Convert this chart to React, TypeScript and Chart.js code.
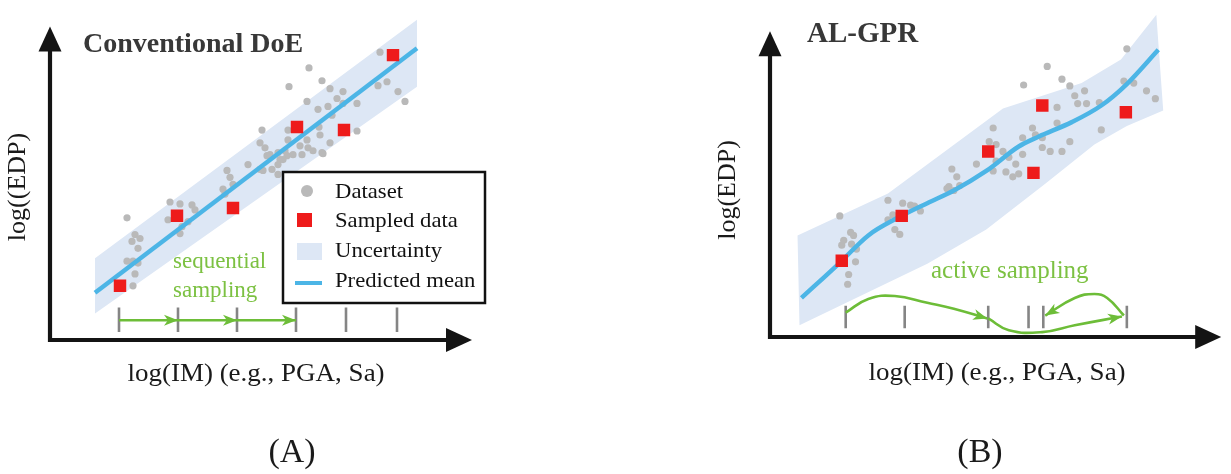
import React, { useEffect, useRef } from "react";
import { Chart, registerables } from "chart.js";
Chart.register(...registerables);

type Pt = [number, number];

// ---------------- Panel A: Conventional DoE ----------------
const aDataset: Pt[] = [
  [1.925, 4.133], [2.125, 3.567], [2.25, 3.433], [2.05, 3.333], [2.2, 3.1], [1.925, 2.667], [2.075, 2.667], [2.2, 2.6],
  [2.125, 2.233], [2.075, 1.833], [3.0, 4.667], [3.25, 4.6], [3.55, 4.567], [3.625, 4.4], [2.95, 4.067], [3.3, 3.833],
  [3.25, 3.6], [3.45, 4.0], [4.425, 5.733], [4.5, 5.5], [4.325, 5.1], [4.375, 4.933], [4.575, 5.267], [4.95, 5.933],
  [5.25, 5.767], [5.425, 6.233], [5.75, 6.1], [5.925, 6.233], [5.3, 7.1], [5.25, 6.667], [5.375, 6.5], [5.5, 6.267],
  [5.7, 6.333], [5.875, 6.4], [5.95, 6.767], [5.825, 6.1], [5.7, 5.933], [5.55, 5.767], [5.325, 5.733], [5.7, 5.6],
  [6.075, 6.267], [6.25, 6.567], [6.425, 6.767], [6.45, 6.5], [6.3, 6.267], [6.575, 6.4], [6.8, 6.333], [7.0, 6.667],
  [6.75, 6.933], [5.95, 7.1], [6.475, 9.2], [5.975, 8.567], [6.8, 8.767], [7.0, 8.5], [7.325, 8.4], [7.175, 8.167],
  [6.425, 8.067], [6.7, 7.8], [6.95, 7.9], [7.325, 8.0], [7.675, 8.0], [7.05, 7.6], [8.25, 9.733], [8.2, 8.6],
  [8.425, 8.733], [8.7, 8.4], [8.875, 8.067], [7.675, 7.067], [6.725, 7.2], [6.825, 6.3],
];
const aSampled: Pt[] = [[1.75, 1.833], [3.175, 4.2], [4.575, 4.467], [6.175, 7.2], [7.35, 7.1], [8.575, 9.633]];
const aMean: Pt[] = [[1.125, 1.6], [9.175, 9.867]];
const aBandUpper: Pt[] = [[1.125, 2.767], [9.175, 10.833]];
const aBandLower: Pt[] = [[1.125, 0.9], [9.175, 8.567]];
const aTicks: number[] = [1.725, 3.2, 4.675, 6.15, 7.4, 8.675];
const aArrows: Pt[][] = [
  [[1.725, 0.667], [3.2, 0.667]],
  [[3.2, 0.667], [4.675, 0.667]],
  [[4.675, 0.667], [6.15, 0.667]],
];

// ---------------- Panel B: AL-GPR ----------------
const bDataset: Pt[] = [
  [1.775, 4.133], [2.05, 3.567], [2.125, 3.467], [1.875, 3.3], [1.825, 3.133], [2.075, 3.167], [2.2, 3.0], [2.175, 2.567],
  [2.0, 2.133], [1.975, 1.8], [3.0, 4.667], [3.125, 4.167], [3.0, 4.0], [3.175, 3.667], [3.3, 3.5], [3.375, 4.567],
  [3.675, 4.467], [3.825, 4.3], [3.575, 4.5], [4.625, 5.733], [4.75, 5.467], [4.55, 5.133], [4.675, 5.0], [4.825, 5.167],
  [4.5, 5.067], [5.675, 7.133], [5.25, 5.9], [5.575, 6.667], [5.75, 6.567], [5.925, 6.333], [5.75, 6.0], [6.075, 6.133],
  [6.25, 5.9], [6.425, 6.233], [6.425, 6.8], [6.675, 7.133], [6.75, 6.9], [6.925, 6.8], [6.925, 6.467], [7.125, 6.333],
  [7.425, 6.333], [7.625, 6.667], [5.675, 5.667], [6.0, 5.633], [6.325, 5.567], [6.175, 5.467], [7.3, 7.3], [7.05, 9.233],
  [7.425, 8.8], [7.625, 8.567], [6.45, 8.6], [7.75, 8.233], [8.0, 8.4], [7.825, 7.967], [8.05, 7.967], [7.3, 7.833],
  [8.375, 8.0], [8.425, 7.067], [9.075, 9.833], [9.0, 8.733], [9.25, 8.667], [9.575, 8.4], [9.8, 8.133],
];
const bSampled: Pt[] = [[1.825, 2.6], [3.35, 4.133], [5.55, 6.333], [6.925, 7.9], [6.7, 5.6], [9.05, 7.667]];
const bMean: Pt[] = [
  [0.8, 1.333], [1.8, 2.567], [2.5, 3.467], [3.25, 4.067], [4.0, 4.567], [4.675, 5.0], [5.5, 5.667],
  [6.325, 6.5], [6.825, 6.833], [7.675, 7.333], [8.425, 7.9], [9.075, 8.633], [9.875, 9.8],
];
const bBandUpper: Pt[] = [[0.7, 3.467], [3.0, 4.9], [5.925, 7.8], [7.925, 8.667], [8.925, 9.467], [9.825, 11.0]];
const bBandLower: Pt[] = [[0.75, 0.4], [4.0, 2.5], [5.5, 3.667], [7.0, 5.233], [8.25, 6.567], [9.075, 7.2], [10.0, 7.733]];
const bTicks: number[] = [1.925, 3.425, 5.55, 6.575, 6.95, 9.075];
const bArrows: Pt[][] = [
  [[1.925, 0.833], [2.5, 1.3], [3.175, 1.4], [4.0, 1.167], [4.675, 0.967], [5.525, 0.633]],
  [[5.55, 0.633], [6.075, 0.233], [6.925, 0.167], [7.75, 0.4], [8.95, 0.7]],
  [[9.0, 0.733], [8.575, 1.333], [8.25, 1.467], [7.75, 1.333], [7.0, 0.733]],
];

// tick mark extents (y, data units)
const aTickRange: Pt = [1.1, 0.267];
const bTickRange: Pt = [1.067, 0.3];

// ---------------- styles ----------------
const SERIF = '"Liberation Serif", "DejaVu Serif", "Times New Roman", serif';
const BAND = "#dde7f5";
const BLUE = "#4cb5e6";
const RED = "#ee1b1b";
const GRAY = "#b9b9b9";
const GREEN = "#6dbd38";
const GREEN_TEXT = "#7cc142";
const AXIS = "#141414";

function drawText(ctx: CanvasRenderingContext2D, s: string, x: number, y: number, font: string, color: string,
  align: CanvasTextAlign = "left", sx = 1, rot = 0, baseline: CanvasTextBaseline = "alphabetic") {
  ctx.save();
  ctx.translate(x, y);
  if (rot) ctx.rotate(rot);
  ctx.scale(sx, 1);
  ctx.font = font;
  ctx.fillStyle = color;
  ctx.textAlign = align;
  ctx.textBaseline = baseline;
  ctx.fillText(s, 0, 0);
  ctx.restore();
}

function arrowHead(ctx: CanvasRenderingContext2D, x: number, y: number, ang: number, len: number, half: number, color: string, notch = 0.7) {
  ctx.save();
  ctx.translate(x, y);
  ctx.rotate(ang);
  ctx.beginPath();
  ctx.moveTo(0, 0);
  ctx.lineTo(-len, -half);
  ctx.lineTo(-len * notch, 0);
  ctx.lineTo(-len, half);
  ctx.closePath();
  ctx.fillStyle = color;
  ctx.fill();
  ctx.restore();
}

type Panel = {
  dataset: Pt[]; sampled: Pt[]; mean: Pt[]; bandUpper: Pt[]; bandLower: Pt[]; ticks: number[]; tickRange: Pt;
  arrows: Pt[][]; arrowTension: number; meanMode: "default" | "monotone";
  xMax: number; yMax: number; axisTipX: number; axisTipY: number;
  padding: { left: number; right: number; top: number; bottom: number };
  offsetX: number; width: number;
  drawTexts: (ctx: CanvasRenderingContext2D) => void;
};

const xy = (pts: Pt[]) => pts.map(([x, y]) => ({ x, y }));

const panelA: Panel = {
  dataset: aDataset, sampled: aSampled, mean: aMean, bandUpper: aBandUpper, bandLower: aBandLower,
  ticks: aTicks, tickRange: aTickRange, arrows: aArrows, arrowTension: 0, meanMode: "default",
  xMax: 10.5, yMax: 11.2, axisTipX: 10.55, axisTipY: 10.6,
  padding: { left: 50, right: 145, top: 4, bottom: 134 }, offsetX: 0, width: 615,
  drawTexts: (ctx) => {
    drawText(ctx, "Conventional DoE", 83, 52, `bold 28px ${SERIF}`, "#383838");
    drawText(ctx, "log((EDP)", 18, 187, `26px ${SERIF}`, "#1a1a1a", "center", 1, -Math.PI / 2, "middle");
    drawText(ctx, "log(IM) (e.g., PGA, Sa)", 256, 381, `25px ${SERIF}`, "#1a1a1a", "center", 1.08);
    drawText(ctx, "(A)", 292, 462, `34px ${SERIF}`, "#1a1a1a", "center");
    drawText(ctx, "sequential", 173, 268, `23px ${SERIF}`, GREEN_TEXT);
    drawText(ctx, "sampling", 173, 297, `23px ${SERIF}`, GREEN_TEXT);
    // legend
    ctx.save();
    ctx.fillStyle = "#ffffff";
    ctx.fillRect(283, 172, 202, 131);
    ctx.strokeStyle = "#111";
    ctx.lineWidth = 2.5;
    ctx.strokeRect(283, 172, 202, 131);
    ctx.fillStyle = GRAY;
    ctx.beginPath();
    ctx.arc(307, 191, 6, 0, Math.PI * 2);
    ctx.fill();
    ctx.fillStyle = RED;
    ctx.fillRect(297, 213, 15, 14);
    ctx.fillStyle = BAND;
    ctx.fillRect(297, 243, 25, 17);
    ctx.strokeStyle = BLUE;
    ctx.lineWidth = 4;
    ctx.beginPath();
    ctx.moveTo(295, 283);
    ctx.lineTo(322, 283);
    ctx.stroke();
    ctx.restore();
    const lf = `21px ${SERIF}`;
    drawText(ctx, "Dataset", 335, 198, lf, "#111", "left", 1.08);
    drawText(ctx, "Sampled data", 335, 227, lf, "#111", "left", 1.08);
    drawText(ctx, "Uncertainty", 335, 257, lf, "#111", "left", 1.08);
    drawText(ctx, "Predicted mean", 335, 287, lf, "#111", "left", 1.08);
  },
};

const panelB: Panel = {
  dataset: bDataset, sampled: bSampled, mean: bMean, bandUpper: bBandUpper, bandLower: bBandLower,
  ticks: bTicks, tickRange: bTickRange, arrows: bArrows, arrowTension: 0.45, meanMode: "monotone",
  xMax: 11.5, yMax: 11.2, axisTipX: 11.475, axisTipY: 10.43,
  padding: { left: 155, right: 1, top: 1, bottom: 137 }, offsetX: 615, width: 616,
  drawTexts: (ctx) => {
    const o = 615;
    drawText(ctx, "AL-GPR", 807 - o, 42, `bold 29px ${SERIF}`, "#383838");
    drawText(ctx, "log(EDP)", 728 - o, 190, `26px ${SERIF}`, "#1a1a1a", "center", 1, -Math.PI / 2, "middle");
    drawText(ctx, "log(IM) (e.g., PGA, Sa)", 997 - o, 380, `25px ${SERIF}`, "#1a1a1a", "center", 1.08);
    drawText(ctx, "(B)", 980 - o, 462, `34px ${SERIF}`, "#1a1a1a", "center");
    drawText(ctx, "active sampling", 931 - o, 278, `25px ${SERIF}`, GREEN_TEXT);
  },
};

function makeConfig(p: Panel): any {
  const datasets: any[] = [];
  datasets.push({
    type: "line", label: "Uncertainty",
    data: xy([...p.bandUpper, ...p.bandLower.slice().reverse(), p.bandUpper[0]]),
    fill: "shape", backgroundColor: BAND, borderWidth: 0, borderColor: "rgba(0,0,0,0)", pointRadius: 0, tension: 0, order: 5,
  });
  datasets.push({
    type: "scatter", label: "Dataset", data: xy(p.dataset),
    pointRadius: 3.6, pointBackgroundColor: GRAY, pointBorderWidth: 0, backgroundColor: GRAY, order: 4,
  });
  const tickData: any[] = [];
  p.ticks.forEach((t) => {
    tickData.push({ x: t, y: p.tickRange[0] }, { x: t, y: p.tickRange[1] }, { x: t, y: null });
  });
  datasets.push({
    type: "line", label: "ticks", data: tickData, borderColor: "#858585", borderWidth: 2.6,
    pointRadius: 0, spanGaps: false, fill: false, order: 3,
  });
  datasets.push({
    type: "line", label: "Predicted mean", data: xy(p.mean), borderColor: BLUE, borderWidth: 4.5,
    pointRadius: 0, fill: false, cubicInterpolationMode: p.meanMode, borderCapStyle: "butt", order: 2,
  });
  datasets.push({
    type: "scatter", label: "Sampled data", data: xy(p.sampled), pointStyle: "rect", pointRadius: 8.8,
    pointBackgroundColor: RED, backgroundColor: RED, pointBorderWidth: 0, order: 1,
  });
  p.arrows.forEach((a, i) => {
    datasets.push({
      type: "line", label: "sampling" + i, data: xy(a), borderColor: GREEN, borderWidth: 2.6, pointRadius: 0,
      fill: false, tension: p.arrowTension, order: 0, arrowEnd: true, clip: false,
    });
  });

  const decor = {
    id: "decor",
    afterDatasetsDraw(chart: any) {
      const ctx: CanvasRenderingContext2D = chart.ctx;
      chart.data.datasets.forEach((ds: any, i: number) => {
        if (!ds.arrowEnd) return;
        const pts = chart.getDatasetMeta(i).data;
        const last = pts[pts.length - 1];
        let fx: number, fy: number;
        if (last.cp1x !== undefined && Math.hypot(last.cp1x - last.x, last.cp1y - last.y) > 1) {
          fx = last.cp1x; fy = last.cp1y;
        } else {
          fx = pts[pts.length - 2].x; fy = pts[pts.length - 2].y;
        }
        arrowHead(ctx, last.x, last.y, Math.atan2(last.y - fy, last.x - fx), 14, 5.5, GREEN, 0.72);
      });
    },
    afterDraw(chart: any) {
      const ctx: CanvasRenderingContext2D = chart.ctx;
      const xs = chart.scales.x;
      const ys = chart.scales.y;
      const ox = xs.getPixelForValue(0);
      const oy = ys.getPixelForValue(0);
      const tipX = xs.getPixelForValue(p.axisTipX);
      const tipY = ys.getPixelForValue(p.axisTipY);
      ctx.save();
      ctx.strokeStyle = AXIS;
      ctx.lineWidth = 4.2;
      ctx.beginPath();
      ctx.moveTo(ox, oy + 2);
      ctx.lineTo(ox, tipY + 20);
      ctx.moveTo(ox - 2, oy);
      ctx.lineTo(tipX - 22, oy);
      ctx.stroke();
      ctx.fillStyle = AXIS;
      ctx.beginPath();
      ctx.moveTo(ox, tipY);
      ctx.lineTo(ox - 11.5, tipY + 25);
      ctx.lineTo(ox + 11.5, tipY + 25);
      ctx.closePath();
      ctx.fill();
      ctx.beginPath();
      ctx.moveTo(tipX, oy);
      ctx.lineTo(tipX - 26, oy - 12);
      ctx.lineTo(tipX - 26, oy + 12);
      ctx.closePath();
      ctx.fill();
      ctx.restore();
      p.drawTexts(ctx);
    },
  };

  return {
    type: "scatter",
    data: { datasets },
    options: {
      animation: false,
      responsive: false,
      maintainAspectRatio: false,
      devicePixelRatio: 1,
      layout: { padding: p.padding },
      plugins: { legend: { display: false }, tooltip: { enabled: false }, title: { display: false } },
      events: [],
      scales: {
        x: { type: "linear", min: 0, max: p.xMax, display: false },
        y: { type: "linear", min: 0, max: p.yMax, display: false },
      },
    },
    plugins: [decor],
  };
}

function PanelChart({ panel }: { panel: Panel }) {
  const ref = useRef<HTMLCanvasElement | null>(null);
  useEffect(() => {
    if (!ref.current) return;
    const chart = new Chart(ref.current, makeConfig(panel));
    return () => chart.destroy();
  }, [panel]);
  return (
    <canvas
      ref={ref}
      width={panel.width}
      height={474}
      style={{ position: "absolute", left: panel.offsetX, top: 0, width: panel.width, height: 474 }}
    />
  );
}

export default function App() {
  return (
    <div style={{ position: "fixed", left: 0, top: 0, width: 1231, height: 474, background: "#ffffff", overflow: "hidden" }}>
      <PanelChart panel={panelA} />
      <PanelChart panel={panelB} />
    </div>
  );
}
